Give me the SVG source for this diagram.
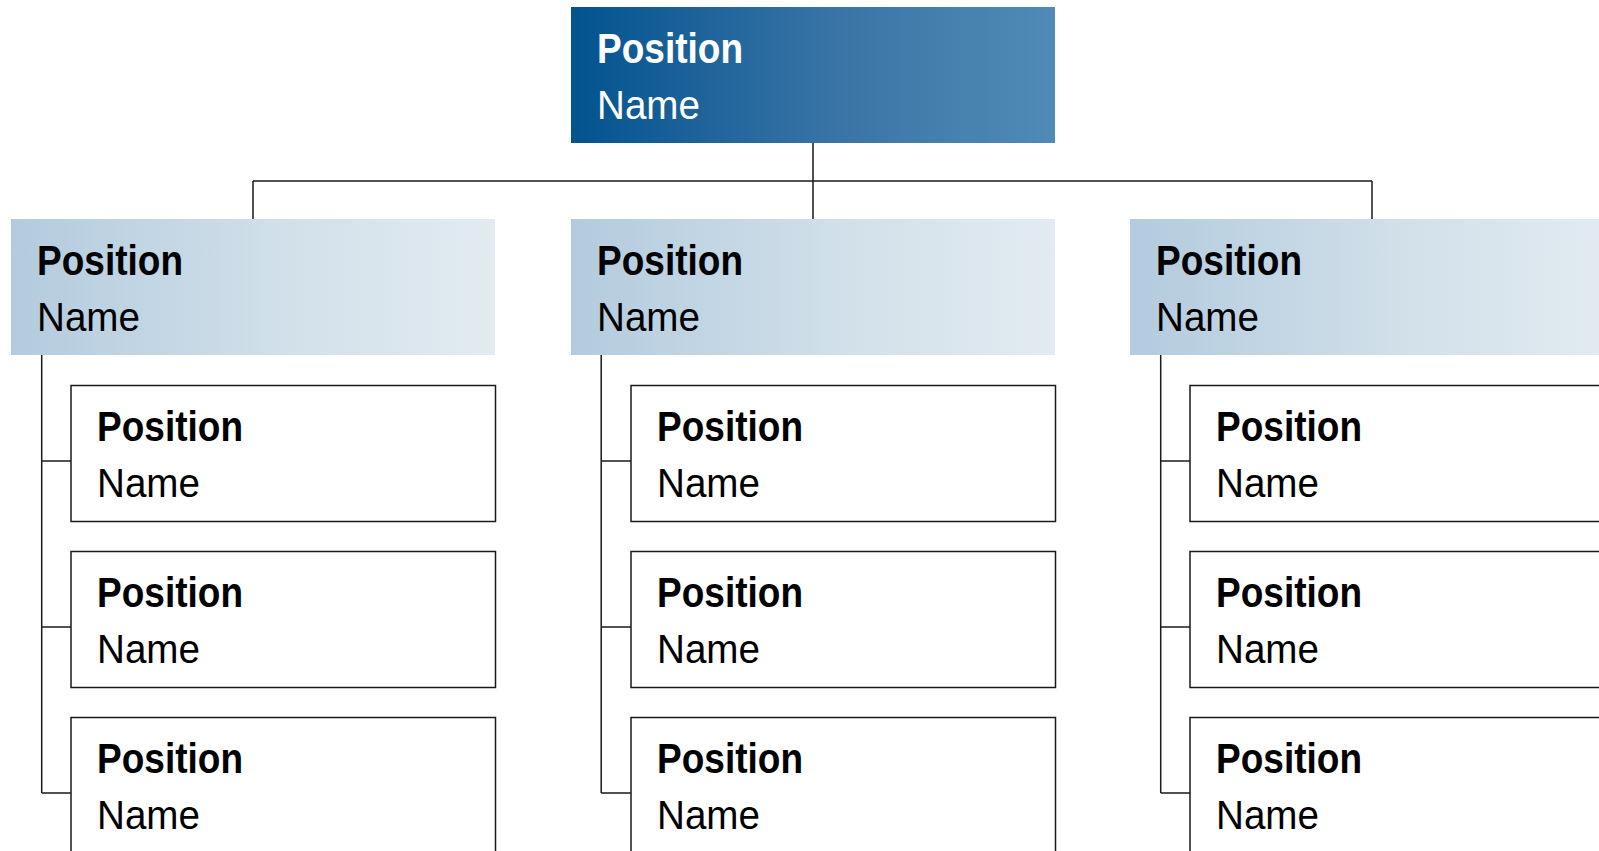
<svg xmlns="http://www.w3.org/2000/svg" width="1599" height="851" viewBox="0 0 1599 851">
<defs>
<linearGradient id="gTop" x1="0" y1="0" x2="1" y2="0">
<stop offset="0" stop-color="#02538f"/>
<stop offset="0.55" stop-color="#3a74a6"/>
<stop offset="1" stop-color="#508bb6"/>
</linearGradient>
<linearGradient id="gMid" x1="0" y1="0" x2="1" y2="0">
<stop offset="0" stop-color="#b3cbde"/>
<stop offset="0.6" stop-color="#d3e1ea"/>
<stop offset="1" stop-color="#e2ebf2"/>
</linearGradient>
<style>
.pos{font-family:"Liberation Sans",Arial,sans-serif;font-weight:bold;font-size:42px;fill:#000}
.nm{font-family:"Liberation Sans",Arial,sans-serif;font-size:40px;fill:#000}
.w{fill:#fff}
.leaf{fill:#fff;stroke:#1a1a1a;stroke-width:1.5}
.ln{fill:none;stroke:#1a1a1a;stroke-width:1.5}
</style>
</defs>
<rect width="1599" height="851" fill="#fff"/>
<g id="connectors">
<path class="ln" d="M813 143 V219 M253 181 H1372 M253 181 V219 M1372 181 V219"/>
<path class="ln" d="M41.7 355 V793 M41.7 461 H71 M41.7 627 H71 M41.7 793 H71"/>
<path class="ln" d="M601.2 355 V793 M601.2 461 H631 M601.2 627 H631 M601.2 793 H631"/>
<path class="ln" d="M1160.7 355 V793 M1160.7 461 H1190 M1160.7 627 H1190 M1160.7 793 H1190"/>
</g>
<g id="top">
<rect x="571" y="7" width="484" height="136" fill="url(#gTop)"/>
<text class="pos w" x="597" y="63" textLength="146" lengthAdjust="spacingAndGlyphs">Position</text>
<text class="nm w" x="597" y="119" textLength="103" lengthAdjust="spacingAndGlyphs">Name</text>
</g>
<g id="mgr1">
<rect x="11" y="219" width="484" height="136" fill="url(#gMid)"/>
<text class="pos" x="37" y="275" textLength="146" lengthAdjust="spacingAndGlyphs">Position</text>
<text class="nm" x="37" y="331" textLength="103" lengthAdjust="spacingAndGlyphs">Name</text>
</g>
<g id="mgr2">
<rect x="571" y="219" width="484" height="136" fill="url(#gMid)"/>
<text class="pos" x="597" y="275" textLength="146" lengthAdjust="spacingAndGlyphs">Position</text>
<text class="nm" x="597" y="331" textLength="103" lengthAdjust="spacingAndGlyphs">Name</text>
</g>
<g id="mgr3">
<rect x="1130" y="219" width="484" height="136" fill="url(#gMid)"/>
<text class="pos" x="1156" y="275" textLength="146" lengthAdjust="spacingAndGlyphs">Position</text>
<text class="nm" x="1156" y="331" textLength="103" lengthAdjust="spacingAndGlyphs">Name</text>
</g>
<g id="c1a"><rect class="leaf" x="71" y="385.5" width="424.5" height="136"/>
<text class="pos" x="97" y="441" textLength="146" lengthAdjust="spacingAndGlyphs">Position</text>
<text class="nm" x="97" y="497" textLength="103" lengthAdjust="spacingAndGlyphs">Name</text></g>
<g id="c1b"><rect class="leaf" x="71" y="551.5" width="424.5" height="136"/>
<text class="pos" x="97" y="607" textLength="146" lengthAdjust="spacingAndGlyphs">Position</text>
<text class="nm" x="97" y="663" textLength="103" lengthAdjust="spacingAndGlyphs">Name</text></g>
<g id="c1c"><rect class="leaf" x="71" y="717.5" width="424.5" height="136"/>
<text class="pos" x="97" y="773" textLength="146" lengthAdjust="spacingAndGlyphs">Position</text>
<text class="nm" x="97" y="829" textLength="103" lengthAdjust="spacingAndGlyphs">Name</text></g>
<g id="c2a"><rect class="leaf" x="631" y="385.5" width="424.5" height="136"/>
<text class="pos" x="657" y="441" textLength="146" lengthAdjust="spacingAndGlyphs">Position</text>
<text class="nm" x="657" y="497" textLength="103" lengthAdjust="spacingAndGlyphs">Name</text></g>
<g id="c2b"><rect class="leaf" x="631" y="551.5" width="424.5" height="136"/>
<text class="pos" x="657" y="607" textLength="146" lengthAdjust="spacingAndGlyphs">Position</text>
<text class="nm" x="657" y="663" textLength="103" lengthAdjust="spacingAndGlyphs">Name</text></g>
<g id="c2c"><rect class="leaf" x="631" y="717.5" width="424.5" height="136"/>
<text class="pos" x="657" y="773" textLength="146" lengthAdjust="spacingAndGlyphs">Position</text>
<text class="nm" x="657" y="829" textLength="103" lengthAdjust="spacingAndGlyphs">Name</text></g>
<g id="c3a"><rect class="leaf" x="1190" y="385.5" width="424.5" height="136"/>
<text class="pos" x="1216" y="441" textLength="146" lengthAdjust="spacingAndGlyphs">Position</text>
<text class="nm" x="1216" y="497" textLength="103" lengthAdjust="spacingAndGlyphs">Name</text></g>
<g id="c3b"><rect class="leaf" x="1190" y="551.5" width="424.5" height="136"/>
<text class="pos" x="1216" y="607" textLength="146" lengthAdjust="spacingAndGlyphs">Position</text>
<text class="nm" x="1216" y="663" textLength="103" lengthAdjust="spacingAndGlyphs">Name</text></g>
<g id="c3c"><rect class="leaf" x="1190" y="717.5" width="424.5" height="136"/>
<text class="pos" x="1216" y="773" textLength="146" lengthAdjust="spacingAndGlyphs">Position</text>
<text class="nm" x="1216" y="829" textLength="103" lengthAdjust="spacingAndGlyphs">Name</text></g>
</svg>
